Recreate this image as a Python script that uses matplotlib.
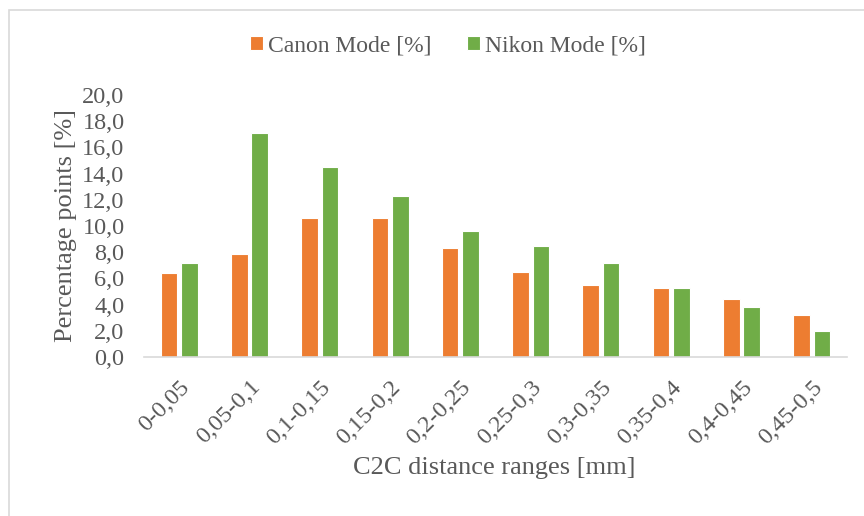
import matplotlib
matplotlib.use("Agg")
import matplotlib.pyplot as plt
import numpy as np
from matplotlib.patches import Rectangle

categories = ["0-0,05", "0,05-0,1", "0,1-0,15", "0,15-0,2", "0,2-0,25",
              "0,25-0,3", "0,3-0,35", "0,35-0,4", "0,4-0,45", "0,45-0,5"]
canon = [6.4, 7.9, 10.6, 10.6, 8.3, 6.5, 5.5, 5.3, 4.4, 3.2]
nikon = [7.2, 17.1, 14.5, 12.3, 9.6, 8.5, 7.2, 5.3, 3.8, 2.0]
yticks = [0, 2, 4, 6, 8, 10, 12, 14, 16, 18, 20]

plt.rcParams['font.family'] = ['Liberation Serif', 'DejaVu Serif']
txt = '#595959'

fig = plt.figure(figsize=(8.64, 5.16), dpi=100)
ax = fig.add_axes([144/864, 1 - 357/516, (847 - 144)/864, (357 - 95)/516])

x = np.arange(len(categories))
w = 0.235
off = 0.145
ax.bar(x - off, canon, w, color='#ED7D31', edgecolor='white', linewidth=0.8, label='Canon Mode [%]')
ax.bar(x + off, nikon, w, color='#70AD47', edgecolor='white', linewidth=0.8, label='Nikon Mode [%]')

ax.set_xlim(-0.5, len(categories) - 0.5)
ax.set_ylim(0, 20)
ax.set_yticks(yticks)
ax.set_yticklabels([f"{v:.1f}".replace('.', ',') for v in yticks], fontsize=17.5, color=txt)
ax.set_xticks(x)
ax.set_xticklabels(categories, rotation=45, ha='right', va='top', rotation_mode='anchor',
                   fontsize=17.5, color=txt)
ax.tick_params(axis='both', length=0)
ax.tick_params(axis='x', pad=14)
ax.tick_params(axis='y', pad=14)
for s in ['top', 'right', 'left']:
    ax.spines[s].set_visible(False)
ax.spines['bottom'].set_color('#D9D9D9')
ax.spines['bottom'].set_linewidth(1.2)

ax.set_ylabel('Percentage points [%]', fontsize=19, color=txt, labelpad=4)
fig.text(494/864, 1 - 468/516, 'C2C distance ranges [mm]', fontsize=19, color=txt, ha='center', va='center')

fig.legend(loc='center', bbox_to_anchor=(448/864, 1 - 46/516), ncol=2, frameon=False,
           fontsize=17, labelcolor=txt, handlelength=0.55, handleheight=0.55,
           handletextpad=0.2, columnspacing=1.5)

fig.patches.append(Rectangle((9/864, -0.05), 1.1, 1.05 + (516 - 9.5)/516 - 1.0, transform=fig.transFigure,
                             fill=False, edgecolor='#D9D9D9', linewidth=1.2))

fig.savefig('out.png', dpi=100)
